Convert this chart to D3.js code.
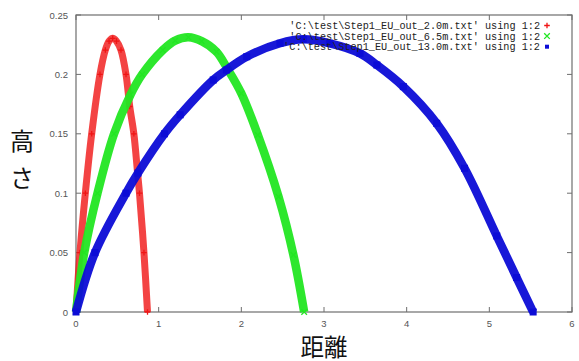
<!DOCTYPE html>
<html>
<head>
<meta charset="utf-8">
<script src="https://cdn.jsdelivr.net/npm/d3@7"></script>
<style>
  body { margin: 0; background: #fff; }
  svg { display: block; }
</style>
</head>
<body>
<div class="chart"></div>
<script>
// values
const xTicks = [0, 1, 2, 3, 4, 5, 6];
const yTicks = [0, 0.05, 0.1, 0.15, 0.2, 0.25];
const yTickLabels = ["0", "0.05", "0.1", "0.15", "0.2", "0.25"];

const legendLabels = [
    "'C:\\test\\Step1_EU_out_2.0m.txt' using 1:2",
    "'C:\\test\\Step1_EU_out_6.5m.txt' using 1:2",
    "'C:\\test\\Step1_EU_out_13.0m.txt' using 1:2"
];

const redX = [0, 0.048, 0.113, 0.19, 0.29, 0.355, 0.40, 0.444, 0.49, 0.544, 0.605, 0.650, 0.700, 0.745, 0.768, 0.822, 0.865];
const redY = [0, 0.05, 0.10, 0.15, 0.20, 0.2205, 0.228, 0.2304, 0.228, 0.2205, 0.20, 0.173, 0.15, 0.117, 0.10, 0.05, 0];

const greenX = [0, 0.10, 0.26, 0.46, 0.66, 0.80, 1.05, 1.20, 1.36, 1.52, 1.70, 1.83, 2.00, 2.20, 2.45, 2.63, 2.76];
const greenY = [0, 0.05, 0.10, 0.15, 0.183, 0.20, 0.2205, 0.2285, 0.2312, 0.228, 0.219, 0.205, 0.184, 0.149, 0.097, 0.048, 0];

const blueX = [0, 0.23, 0.605, 0.75, 1.07, 1.26, 1.66, 1.82, 2.065, 2.468, 2.75, 3.07, 3.435, 3.64, 3.96, 4.363, 4.70, 5.09, 5.33, 5.53];
const blueY = [0, 0.05, 0.10, 0.117, 0.15, 0.166, 0.1953, 0.2037, 0.2149, 0.2262, 0.2295, 0.2262, 0.2177, 0.2079, 0.1897, 0.1588, 0.121, 0.064, 0.029, 0];

const seriesColors = ["#f01414", "#22e622", "#0c0cd6"];
const markerTypes = ["plus", "cross", "square"];

const width = 579, height = 361;
const margin = { left: 76, right: 7, top: 15, bottom: 49 };

const svg = d3.select(".chart")
    .append("svg")
    .attr("width", width)
    .attr("height", height);

const x = d3.scaleLinear().domain([0, 6]).range([margin.left, width - margin.right]);
const y = d3.scaleLinear().domain([0, 0.25]).range([height - margin.bottom, margin.top]);

const frameColor = "#6e6e6e";

// ticks on all four sides, pointing inward
const g = svg.append("g");
g.selectAll(".xt").data(xTicks).enter().append("line")
    .attr("x1", d => x(d)).attr("x2", d => x(d))
    .attr("y1", y(0)).attr("y2", y(0) - 5)
    .attr("stroke", frameColor);
g.selectAll(".xtt").data(xTicks).enter().append("line")
    .attr("x1", d => x(d)).attr("x2", d => x(d))
    .attr("y1", y(0.25)).attr("y2", y(0.25) + 5)
    .attr("stroke", frameColor);
g.selectAll(".yt").data(yTicks).enter().append("line")
    .attr("x1", x(0)).attr("x2", x(0) + 5)
    .attr("y1", d => y(d)).attr("y2", d => y(d))
    .attr("stroke", frameColor);
g.selectAll(".ytr").data(yTicks).enter().append("line")
    .attr("x1", x(6)).attr("x2", x(6) - 5)
    .attr("y1", d => y(d)).attr("y2", d => y(d))
    .attr("stroke", frameColor);

g.selectAll(".xl").data(xTicks).enter().append("text")
    .attr("x", d => x(d))
    .attr("y", y(0) + 15)
    .attr("text-anchor", "middle")
    .attr("font-family", "Liberation Sans, sans-serif")
    .attr("font-size", "9.5px")
    .attr("fill", "#555")
    .text(d => d);

g.selectAll(".yl").data(yTicks).enter().append("text")
    .attr("x", x(0) - 8)
    .attr("y", d => y(d) + 3.5)
    .attr("text-anchor", "end")
    .attr("font-family", "Liberation Sans, sans-serif")
    .attr("font-size", "9.5px")
    .attr("fill", "#555")
    .text((d, i) => yTickLabels[i]);

// plot frame
svg.append("rect")
    .attr("x", x(0)).attr("y", y(0.25))
    .attr("width", x(6) - x(0)).attr("height", y(0) - y(0.25))
    .attr("fill", "none")
    .attr("stroke", frameColor)
    .attr("stroke-width", 1.2);

// axis titles
svg.append("text")
    .attr("x", x(3))
    .attr("y", 355.5)
    .attr("text-anchor", "middle")
    .attr("font-family", "Noto Sans CJK JP, sans-serif")
    .attr("font-size", "23.5px")
    .attr("fill", "#111")
    .text("距離");

svg.append("text")
    .attr("x", 22)
    .attr("y", 150)
    .attr("text-anchor", "middle")
    .attr("font-family", "Noto Sans CJK JP, sans-serif")
    .attr("font-size", "24px")
    .attr("fill", "#111")
    .text("高");
svg.append("text")
    .attr("x", 22)
    .attr("y", 187)
    .attr("text-anchor", "middle")
    .attr("font-family", "Noto Sans CJK JP, sans-serif")
    .attr("font-size", "24px")
    .attr("fill", "#111")
    .text("さ");

// series
const series = [
    { xs: redX, ys: redY },
    { xs: greenX, ys: greenY },
    { xs: blueX, ys: blueY }
];

const line = d3.line()
    .x(d => x(d[0]))
    .y(d => y(d[1]))
    .curve(d3.curveCatmullRom.alpha(0.5));

function marker(sel, type, color, s) {
    if (type === "plus") {
        sel.append("path")
            .attr("d", `M${-s},0H${s}M0,${-s}V${s}`)
            .attr("stroke", color).attr("stroke-width", 1.3);
    } else if (type === "cross") {
        sel.append("path")
            .attr("d", `M${-s},${-s}L${s},${s}M${-s},${s}L${s},${-s}`)
            .attr("stroke", color).attr("stroke-width", 1.3);
    } else {
        sel.append("rect")
            .attr("x", -s).attr("y", -s)
            .attr("width", 2 * s).attr("height", 2 * s)
            .attr("fill", color);
    }
}

series.forEach((s, i) => {
    const pts = s.xs.map((v, j) => [v, s.ys[j]]);
    svg.append("path")
        .datum(pts)
        .attr("d", line)
        .attr("fill", "none")
        .attr("stroke", seriesColors[i])
        .attr("stroke-width", i === 0 ? 7 : 8.5)
        .attr("stroke-opacity", i === 0 ? 0.8 : 0.95)
        .attr("stroke-linecap", "butt");

    svg.selectAll(".m" + i).data(pts).enter().append("g")
        .attr("transform", d => `translate(${x(d[0])},${y(d[1])})`)
        .each(function() { marker(d3.select(this), markerTypes[i], seriesColors[i], i === 2 ? 3.5 : 2.8); });
});

// legend, top right inside the frame
const legend = svg.append("g");
legendLabels.forEach((t, i) => {
    const ly = 25.5 + i * 10.6;
    legend.append("text")
        .attr("x", 540)
        .attr("y", ly + 3.5)
        .attr("text-anchor", "end")
        .attr("font-family", "Liberation Mono, monospace")
        .attr("font-size", "10.2px")
        .attr("fill", "#222")
        .text(t);
    const mg = legend.append("g").attr("transform", `translate(547,${ly})`);
    marker(mg, markerTypes[i], seriesColors[i], i === 2 ? 2 : 2.8);
});
</script>
</body>
</html>
